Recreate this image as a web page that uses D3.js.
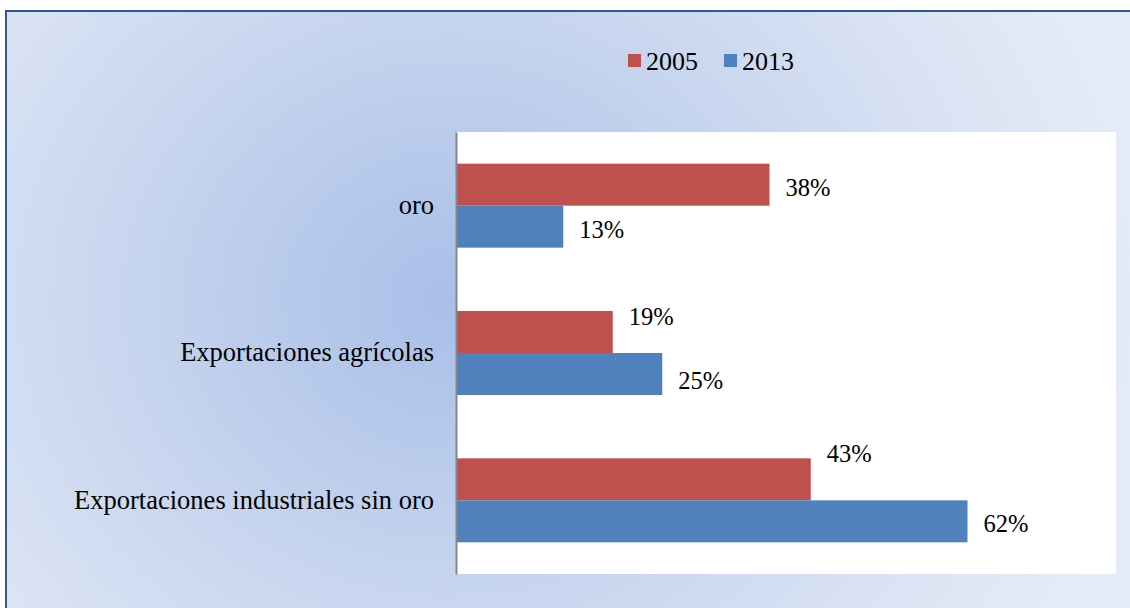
<!DOCTYPE html>
<html>
<head>
<meta charset="utf-8">
<script src="https://cdn.jsdelivr.net/npm/d3@7"></script>
<style>
  html, body { margin: 0; padding: 0; background: #ffffff; }
  svg { display: block; }
  svg text { font-family: "Liberation Serif", "Times New Roman", "DejaVu Serif", serif; }
</style>
</head>
<body>
<svg id="chart" width="1130" height="608"></svg>
<script>
// ---- data ----
const categories = ["oro", "Exportaciones agrícolas", "Exportaciones industriales sin oro"];
const seriesNames = ["2005", "2013"];
const values2005 = [0.38, 0.19, 0.43];
const values2013 = [0.13, 0.25, 0.62];
const seriesColors = ["#c0504d", "#4f81bd"];
// vertical nudge (px) of each data label relative to its bar centre
const labelNudge2005 = [3, -16, -26];
const labelNudge2013 = [3, 6, 2];

// ---- layout ----
const W = 1130, H = 608;
const plot = { left: 456, top: 132, right: 1116, bottom: 574 };
const svg = d3.select("#chart");
const defs = svg.append("defs");

const grad = defs.append("radialGradient")
  .attr("id", "bg").attr("gradientUnits", "userSpaceOnUse")
  .attr("cx", 450).attr("cy", 300).attr("r", 720)
  .attr("gradientTransform", "translate(450,300) scale(1,0.9) translate(-450,-300)");
grad.append("stop").attr("offset", "0").attr("stop-color", "#a9bfe8");
grad.append("stop").attr("offset", "0.35").attr("stop-color", "#c0d0ed");
grad.append("stop").attr("offset", "0.7").attr("stop-color", "#d8e1f3");
grad.append("stop").attr("offset", "1").attr("stop-color", "#e6ecf7");

// chart area background + frame (extends past the right/bottom edges)
svg.append("rect").attr("x", 6).attr("y", 11).attr("width", W + 20).attr("height", H + 20)
  .attr("fill", "url(#bg)").attr("stroke", "#2e5896").attr("stroke-width", 2);

// plot area
svg.append("rect").attr("x", plot.left).attr("y", plot.top)
  .attr("width", plot.right - plot.left).attr("height", plot.bottom - plot.top)
  .attr("fill", "#ffffff");

const x = d3.scaleLinear().domain([0, 0.8]).range([plot.left, plot.right]);
const y0 = d3.scaleBand().domain(categories).range([plot.top, plot.bottom]).paddingInner(0.43).paddingOuter(0.215);
const y1 = d3.scaleBand().domain(seriesNames).range([0, y0.bandwidth()]);

const rows = categories.map((c, i) => ({
  cat: c,
  vals: [
    { s: seriesNames[0], v: values2005[i], nudge: labelNudge2005[i], color: seriesColors[0] },
    { s: seriesNames[1], v: values2013[i], nudge: labelNudge2013[i], color: seriesColors[1] }
  ]
}));

const g = svg.append("g");
const grp = g.selectAll("g.cat").data(rows).join("g")
  .attr("transform", d => `translate(0,${y0(d.cat)})`);

grp.selectAll("rect").data(d => d.vals).join("rect")
  .attr("x", x(0))
  .attr("y", d => y1(d.s))
  .attr("width", d => x(d.v) - x(0))
  .attr("height", y1.bandwidth())
  .attr("fill", d => d.color);

grp.selectAll("text.lbl").data(d => d.vals).join("text")
  .attr("class", "lbl")
  .attr("x", d => x(d.v) + 16)
  .attr("y", d => y1(d.s) + y1.bandwidth() / 2 + d.nudge)
  .attr("dy", "0.35em")
  .style("font-size", "24.5px").attr("fill", "#000")
  .text(d => d3.format(".0%")(d.v));

// category axis
const yAxis = d3.axisLeft(y0).tickSize(0).tickPadding(22);
const ax = svg.append("g").attr("transform", `translate(${plot.left},0)`).call(yAxis);
ax.attr("font-family", null).attr("font-size", null);
ax.select(".domain").attr("stroke", "#868686").attr("stroke-width", 2);
ax.selectAll("text").style("font-size", "26.5px").attr("fill", "#000");

// legend
const legend = svg.append("g");
const legendX = [628, 724];
seriesNames.forEach((s, i) => {
  legend.append("rect").attr("x", legendX[i]).attr("y", 54).attr("width", 13).attr("height", 13)
    .attr("fill", seriesColors[i]);
  legend.append("text").attr("x", legendX[i] + 18).attr("y", 61).attr("dy", "0.35em")
    .style("font-size", "26px").attr("fill", "#000").text(s);
});
</script>
</body>
</html>
